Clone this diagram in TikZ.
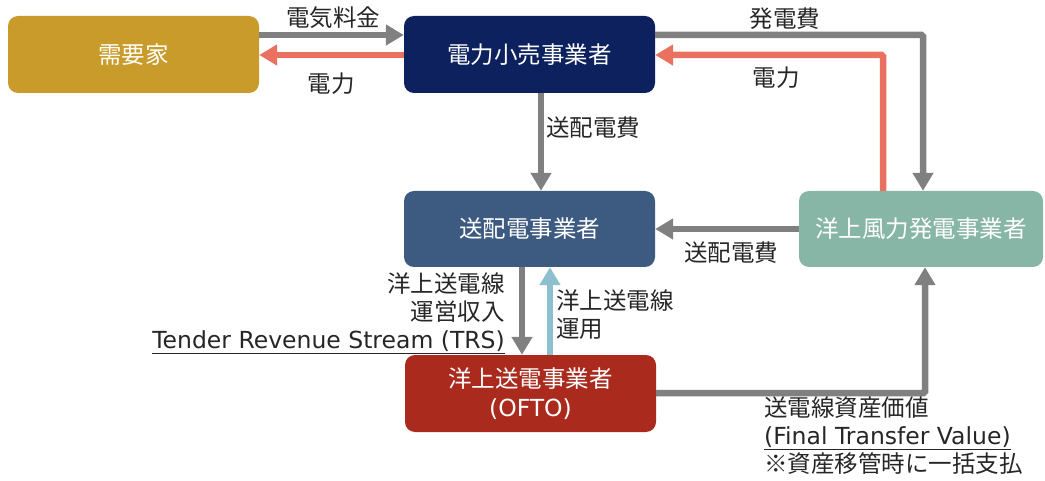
\documentclass[tikz,border=0pt]{standalone}
\usepackage{fontspec}
\setmainfont{Noto Sans CJK JP}
\newfontfamily\latfont{DejaVu Sans}
\usetikzlibrary{arrows.meta}
\definecolor{cGold}{HTML}{C89B2A}
\definecolor{cNavy}{HTML}{0C215E}
\definecolor{cSteel}{HTML}{3D5A80}
\definecolor{cSea}{HTML}{88B6A6}
\definecolor{cBrick}{HTML}{AA2A1E}
\definecolor{cGray}{HTML}{808080}
\definecolor{cRed}{HTML}{EA705F}
\definecolor{cSky}{HTML}{8CC0CE}
\definecolor{cText}{HTML}{262626}
\begin{document}
\begin{tikzpicture}[x=1pt,y=-1pt,
  box/.style={rectangle, rounded corners=10pt, inner sep=0pt, minimum width=251pt, minimum height=77pt,
    text=white, font=\fontsize{23.5}{29}\selectfont, align=center},
  lbl/.style={inner sep=0pt, text=cText, font=\fontsize{23.5}{28}\selectfont},
  flow/.style={line width=6.5pt, rounded corners=1.5pt, -{Triangle[width=20pt,length=18pt]}},
  gflow/.style={flow, draw=cGray},
  rflow/.style={flow, draw=cRed},
  bflow/.style={flow, draw=cSky}]
\useasboundingbox (0,0) rectangle (1045,481);

\node[box, fill=cGold] (cust) at (133.5,54.5) {需要家};
\node[box, fill=cNavy] (retail) at (529.5,54.5) {電力小売事業者};
\node[box, fill=cSteel, minimum height=76pt] (tso) at (529.5,229) {送配電事業者};
\node[box, fill=cSea, minimum width=244pt, minimum height=76pt] (wind) at (921,229) {洋上風力発電事業者};
\node[box, fill=cBrick] (ofto) at (530.5,393.5) {洋上送電事業者\\{\latfont (OFTO)}};

\coordinate (ya) at (0,35);
\coordinate (yb) at (0,55);
\coordinate (b1) at (923,35);
\coordinate (b2) at (883,55);
\coordinate (b3) at (541,0);
\coordinate (b5) at (522,0);
\coordinate (b6) at (550,0);
\coordinate (b4) at (925,393);

\draw[gflow] (cust.east |- ya) -- (retail.west |- ya);
\draw[rflow] (retail.west |- yb) -- (cust.east |- yb);
\draw[gflow] (retail.east |- b1) -- (b1) -- (b1 |- wind.north);
\draw[rflow] (b2 |- wind.north) -- (b2) -- (retail.east |- b2);
\draw[gflow] (b3 |- retail.south) -- (b3 |- tso.north);
\draw[gflow] (wind.west) -- (tso.east);
\draw[gflow] (b5 |- tso.south) -- (b5 |- ofto.north);
\draw[bflow] (b6 |- ofto.north) -- (b6 |- tso.south);
\draw[gflow] (ofto.east |- b4) -- (b4) -- (b4 |- wind.south);

\node[lbl] (l1) at (333,18) {電気料金};
\node[lbl] (l2) at (331,84) {電力};
\node[lbl] (l3) at (785,19) {発電費};
\node[lbl] (l4) at (776,78) {電力};
\node[lbl, anchor=west] (l5) at (546,128) {送配電費};
\node[lbl] (l6) at (731,253) {送配電費};
\node[lbl, anchor=north east, align=right] (l7) at (505,273) {洋上送電線\\運営収入\\\underline{\latfont Tender Revenue Stream (TRS)}};
\node[lbl, anchor=north west, align=left] (l8) at (556,290) {洋上送電線\\運用};
\node[lbl, anchor=north west, align=left] (l9) at (764,397) {送電線資産価値\\\underline{\latfont (Final Transfer Value)}\\※資産移管時に一括支払};
\end{tikzpicture}
\end{document}
